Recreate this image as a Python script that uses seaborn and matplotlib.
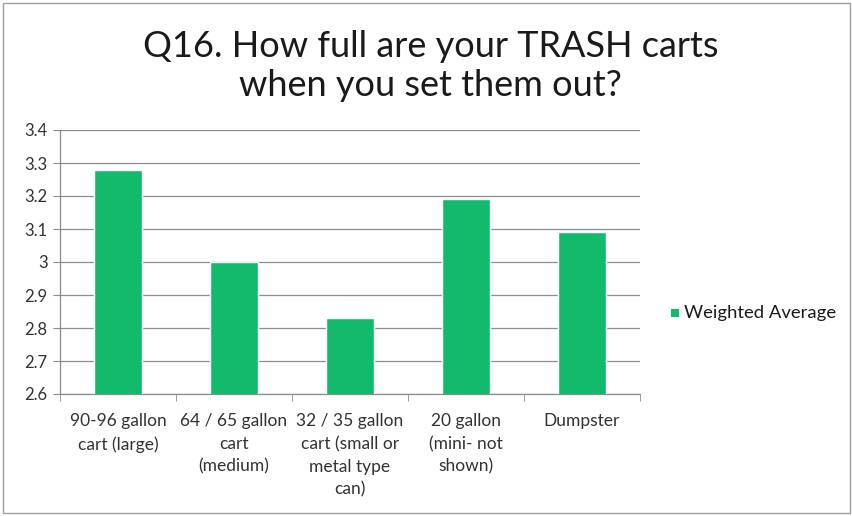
import matplotlib
matplotlib.use("Agg")
import matplotlib.pyplot as plt
import seaborn as sns
import pandas as pd
from matplotlib.patches import Rectangle

categories = ["90-96 gallon\ncart (large)", "64 / 65 gallon\ncart\n(medium)",
              "32 / 35 gallon\ncart (small or\nmetal type\ncan)", "20 gallon\n(mini- not\nshown)",
              "Dumpster"]
values = [3.28, 3.00, 2.83, 3.19, 3.09]
series = "Weighted Average"
yticks = [2.6, 2.7, 2.8, 2.9, 3.0, 3.1, 3.2, 3.3, 3.4]
ytick_labels = ["2.6", "2.7", "2.8", "2.9", "3", "3.1", "3.2", "3.3", "3.4"]

sns.set_style("white")
plt.rcParams['font.family'] = ['Lato', 'DejaVu Sans']

df = pd.DataFrame({"cat": categories, "val": values, "s": series})

fig = plt.figure(figsize=(8.53, 5.16), dpi=100)
ax = fig.add_axes([60/853, 1-394/516, (640-60)/853, (394-130)/516])
green = "#12BB6C"
sns.barplot(data=df, x="cat", y="val", hue="s", palette=[green], ax=ax,
            width=0.41, legend=False, saturation=1)
ax.set_ylim(2.6, 3.4)
ax.set_xlim(-0.5, 4.5)
ax.set_yticks(yticks)
ax.set_yticklabels(ytick_labels, fontsize=12, color="#333333")
ax.set_xlabel("")
ax.set_ylabel("")
ax.yaxis.grid(True, color="#8c8c8c", linewidth=0.9)
ax.set_axisbelow(True)
for s in ["top", "right"]:
    ax.spines[s].set_visible(False)
for s in ["left", "bottom"]:
    ax.spines[s].set_color("#8c8c8c")
    ax.spines[s].set_linewidth(0.9)
ax.tick_params(axis="y", length=5, color="#8c8c8c", left=True, pad=4)
ax.set_xticks(range(len(categories)))
ax.set_xticklabels(categories, fontsize=12.5, color="#333333", linespacing=1.5, va="top")
ax.tick_params(axis="x", length=0, pad=14)
ax.set_xticks([i - 0.5 for i in range(len(categories) + 1)], minor=True)
ax.tick_params(axis="x", which="minor", length=5, color="#8c8c8c", bottom=True)

fig.text(0.505, 1-47/516, "Q16. How full are your TRASH carts", ha="center", va="center",
         fontsize=26, color="#1a1a1a")
fig.text(0.505, 1-86/516, "when you set them out?", ha="center", va="center",
         fontsize=26, color="#1a1a1a")

fig.patches.append(Rectangle((671/853, 1-317/516), 8/853, 8/516, transform=fig.transFigure,
                             facecolor=green, edgecolor="none"))
fig.text(684/853, 1-313/516, series, ha="left", va="center", fontsize=13.3, color="#1a1a1a")

fig.patches.append(Rectangle((3/853, 3/516), 847/853, 510/516, transform=fig.transFigure,
                             facecolor="none", edgecolor="#a0a0a0", linewidth=1))

fig.savefig("out.png", dpi=100)
